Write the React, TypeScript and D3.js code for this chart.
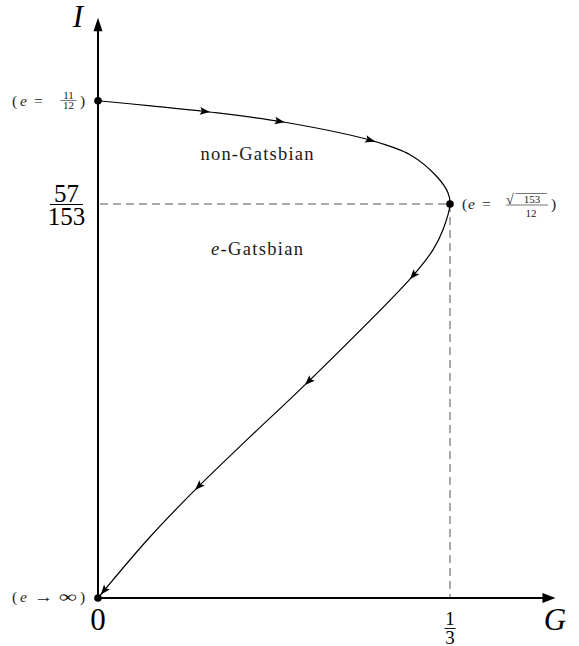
import React, { useRef, useLayoutEffect, useState } from 'react';
import * as d3 from 'd3';

// Curve (G, I), traversed from e = 11/12 down to e -> infinity
const curveG = [0, 0.05, 0.1032, 0.1742, 0.2595, 0.2955, 0.3210, 0.3314, 0.3333, 0.3267, 0.3172, 0.2973, 0.1979, 0.1439, 0.0938, 0.0492, 0.0085, 0];
const curveI = [0.4702, 0.4654, 0.4598, 0.4503, 0.4324, 0.4191, 0.3983, 0.3832, 0.3725, 0.3482, 0.3292, 0.3037, 0.2034, 0.1523, 0.1041, 0.0577, 0.0104, 0];

// direction arrows along the curve
const arrowG = [0.1032, 0.1742, 0.2595, 0.2973, 0.1979, 0.0938, 0.0055];
const arrowI = [0.4598, 0.4503, 0.4324, 0.3037, 0.2034, 0.1041, 0.0045];

// special points
const pointG = [0, 1 / 3, 0];
const pointI = [0.4702, 57 / 153, 0];

// axis extents (arrow tips)
const gAxisMax = 0.4332;
const iAxisMax = 0.5487;

const x = d3.scaleLinear().domain([0, 1 / 3]).range([98, 450]);
const y = d3.scaleLinear().domain([0, 57 / 153]).range([598, 204]);

const FONT = '"Liberation Serif", "Times New Roman", serif';

type Arrow = { x: number; y: number; a: number };

export default function App() {
  const pathRef = useRef<SVGPathElement>(null);
  const [arrows, setArrows] = useState<Arrow[]>([]);

  const pts: [number, number][] = curveG.map((g, i) => [x(g), y(curveI[i])]);
  const line = d3.line().curve(d3.curveCatmullRom.alpha(0.5));
  const d = line(pts) || '';

  useLayoutEffect(() => {
    const p = pathRef.current;
    if (!p) return;
    const L = p.getTotalLength();
    const samples: { l: number; x: number; y: number }[] = [];
    for (let l = 0; l <= L; l += 0.5) {
      const q = p.getPointAtLength(l);
      samples.push({ l, x: q.x, y: q.y });
    }
    const res: Arrow[] = arrowG.map((g, k) => {
      const tx = x(g), ty = y(arrowI[k]);
      let best = samples[0], bd = Infinity;
      for (const s of samples) {
        const dd = (s.x - tx) ** 2 + (s.y - ty) ** 2;
        if (dd < bd) { bd = dd; best = s; }
      }
      const a0 = p.getPointAtLength(Math.max(0, best.l - 1.5));
      const a1 = p.getPointAtLength(Math.min(L, best.l + 1.5));
      const ang = (Math.atan2(a1.y - a0.y, a1.x - a0.x) * 180) / Math.PI;
      return { x: best.x, y: best.y, a: ang };
    });
    setArrows(res);
  }, []);

  const x0 = x(0), y0 = y(0);
  const xt = x(gAxisMax), yt = y(iAxisMax);
  const xThird = x(1 / 3), y57 = y(57 / 153);
  const yStart = y(pointI[0]);
  const lab = '#1a1a1a';

  return (
    <svg width={579} height={646} style={{ position: 'absolute', left: 0, top: 0, background: '#fff' }} fontFamily={FONT}>
      <rect x={0} y={0} width={579} height={646} fill="#fff" />
      {/* dashed guides */}
      <line x1={x0 + 2} y1={y57} x2={xThird} y2={y57} stroke="#555" strokeWidth={1} strokeDasharray="8 5" />
      <line x1={xThird} y1={y57} x2={xThird} y2={y0} stroke="#555" strokeWidth={1} strokeDasharray="8 5" />

      {/* axes */}
      <line x1={x0} y1={y0} x2={xt - 12} y2={y0} stroke="#000" strokeWidth={2} />
      <path d={`M${xt},${y0} L${xt - 13},${y0 - 5} L${xt - 13},${y0 + 5} Z`} fill="#000" />
      <line x1={x0} y1={y0} x2={x0} y2={yt + 12} stroke="#000" strokeWidth={2} />
      <path d={`M${x0},${yt} L${x0 - 4.5},${yt + 13.5} L${x0 + 4.5},${yt + 13.5} Z`} fill="#000" />

      {/* curve */}
      <path ref={pathRef} d={d} fill="none" stroke="#000" strokeWidth={1.2} />
      {arrows.map((a, i) => (
        <path key={i} d="M3,0 L-7,-3.8 L-5,0 L-7,3.8 Z" fill="#000" transform={`translate(${a.x},${a.y}) rotate(${a.a})`} />
      ))}

      {/* points */}
      {pointG.map((g, i) => (
        <circle key={i} cx={x(g)} cy={y(pointI[i])} r={3.8} fill="#000" />
      ))}

      {/* axis labels */}
      <text x={78} y={27} fontSize={31} fontStyle="italic" textAnchor="middle">I</text>
      <text x={555} y={630} fontSize={31} fontStyle="italic" textAnchor="middle">G</text>
      <text x={x0} y={630} fontSize={31} textAnchor="middle">0</text>

      {/* 1/3 tick */}
      <text x={xThird} y={625} fontSize={19} textAnchor="middle">1</text>
      <line x1={xThird - 5.5} y1={628.5} x2={xThird + 5.5} y2={628.5} stroke="#000" strokeWidth={0.9} />
      <text x={xThird} y={644} fontSize={19} textAnchor="middle">3</text>

      {/* 57/153 tick */}
      <text x={66.5} y={y57 - 2} fontSize={25} textAnchor="middle">57</text>
      <line x1={50} y1={y57 + 0.5} x2={83} y2={y57 + 0.5} stroke="#000" strokeWidth={1} />
      <text x={66.5} y={y57 + 21} fontSize={25} textAnchor="middle">153</text>

      {/* (e = 11/12) */}
      <g fill={lab}>
        <text x={12} y={yStart + 5} fontSize={15.5}>(</text>
        <text x={20} y={yStart + 5} fontSize={15.5} fontStyle="italic">e</text>
        <text x={34} y={yStart + 5} fontSize={15.5}>=</text>
        <text x={68.5} y={yStart - 1.8} fontSize={11} textAnchor="middle">11</text>
        <line x1={60.5} y1={yStart - 0.2} x2={76.5} y2={yStart - 0.2} stroke={lab} strokeWidth={0.6} />
        <text x={68.5} y={yStart + 8.5} fontSize={11} textAnchor="middle">12</text>
        <text x={80} y={yStart + 5} fontSize={15.5}>)</text>
      </g>

      {/* (e = sqrt(153)/12) */}
      <g fill={lab}>
        <text x={462} y={y57 + 5} fontSize={15.5}>(</text>
        <text x={468} y={y57 + 5} fontSize={15.5} fontStyle="italic">e</text>
        <text x={482} y={y57 + 5} fontSize={15.5}>=</text>
        <text x={506} y={y57 - 0.5} fontSize={14}>√</text>
        <line x1={515.5} y1={y57 - 10.5} x2={547} y2={y57 - 10.5} stroke={lab} strokeWidth={0.6} />
        <text x={532} y={y57 - 1.5} fontSize={11} textAnchor="middle">153</text>
        <line x1={506} y1={y57 + 1} x2={548} y2={y57 + 1} stroke={lab} strokeWidth={0.6} />
        <text x={531} y={y57 + 12.5} fontSize={11} textAnchor="middle">12</text>
        <text x={551} y={y57 + 5} fontSize={15.5}>)</text>
      </g>

      {/* (e -> infinity) */}
      <g fill={lab}>
        <text x={12} y={y0 + 4} fontSize={15.5}>(</text>
        <text x={20} y={y0 + 4} fontSize={15.5} fontStyle="italic">e</text>
        <text x={34} y={y0 + 4} fontSize={15.5} textLength={19} lengthAdjust="spacingAndGlyphs">→</text>
        <text x={59} y={y0 + 4} fontSize={15.5} textLength={18} lengthAdjust="spacingAndGlyphs">∞</text>
        <text x={80} y={y0 + 4} fontSize={15.5}>)</text>
      </g>

      {/* region labels */}
      <text x={257} y={160} fontSize={18.5} textAnchor="middle" textLength={113} lengthAdjust="spacing" fill={lab}>non-Gatsbian</text>
      <text x={257} y={255} fontSize={18.5} textAnchor="middle" textLength={92} lengthAdjust="spacing" fill={lab}>
        <tspan fontStyle="italic">e</tspan>-Gatsbian
      </text>
    </svg>
  );
}
